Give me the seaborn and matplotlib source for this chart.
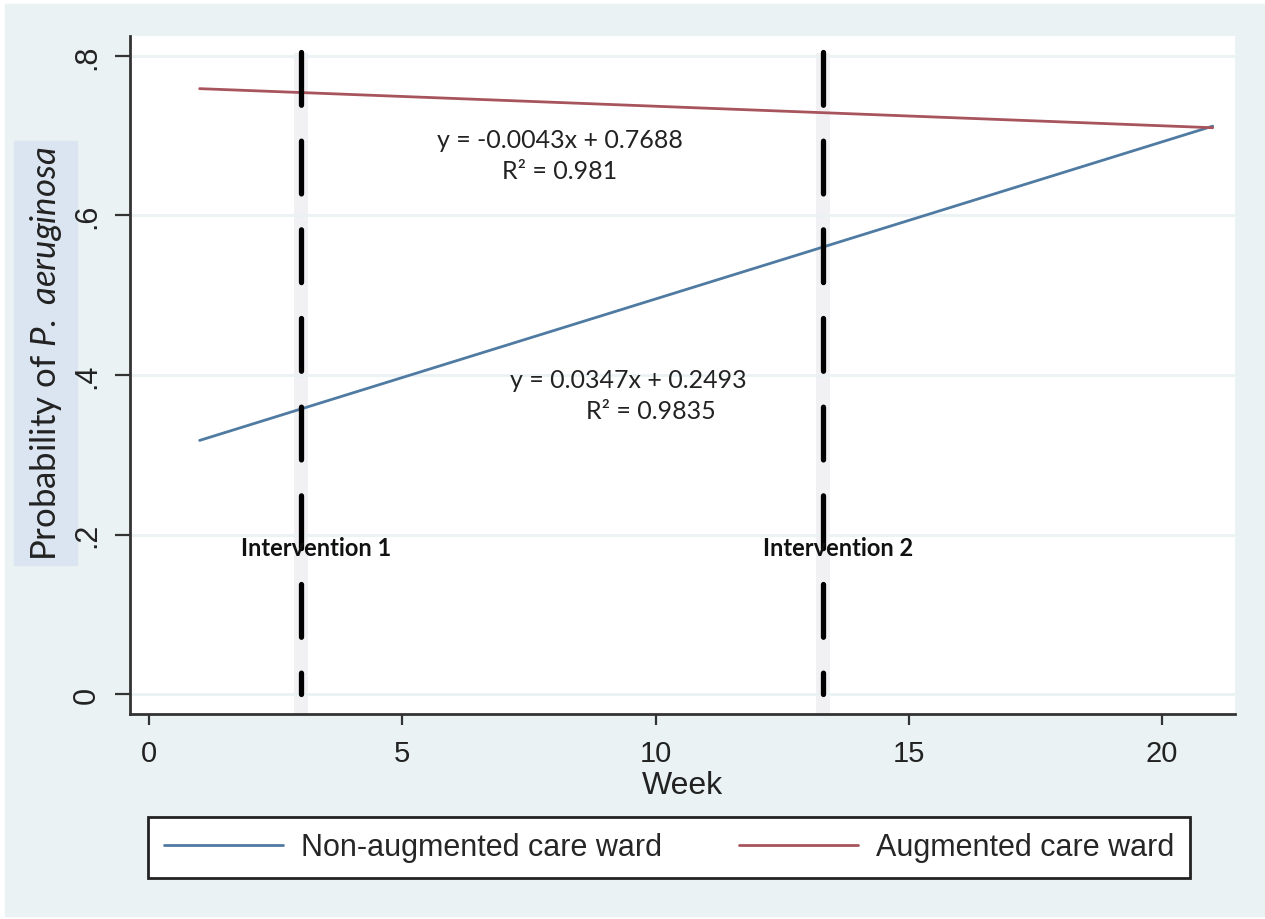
import matplotlib
matplotlib.use("Agg")
import matplotlib.pyplot as plt
import pandas as pd
import seaborn as sns
from matplotlib.patches import Rectangle

# fitted probability lines at first and last week
weeks = [1, 21]
non_augmented = [0.318, 0.712]
augmented = [0.759, 0.710]
series_names = ["Non-augmented care ward", "Augmented care ward"]
series_colors = ["#4f7ba3", "#a8545c"]

interventions = [3.0, 13.3]
intervention_labels = ["Intervention 1", "Intervention 2"]

xticks = [0, 5, 10, 15, 20]
yticks = [0, 0.2, 0.4, 0.6, 0.8]
ytick_labels = ["0", ".2", ".4", ".6", ".8"]

eq_aug = ["y = -0.0043x + 0.7688", "R² = 0.981"]
eq_non = ["y = 0.0347x + 0.2493", "R² = 0.9835"]

df = pd.DataFrame({
    "Week": weeks * 2,
    "prob": non_augmented + augmented,
    "ward": [series_names[0]] * len(weeks) + [series_names[1]] * len(weeks),
})

sns.set_theme(style="white")
plt.rcParams["font.family"] = ["Liberation Sans", "DejaVu Sans"]
plt.rcParams["mathtext.fontset"] = "custom"
plt.rcParams["mathtext.rm"] = "Lato"
plt.rcParams["mathtext.it"] = "Lato:italic"

bg = "#eaf2f3"
fig = plt.figure(figsize=(12.65, 9.2), dpi=100, facecolor="white")
fig.patches.append(Rectangle((5 / 1265, 3 / 920), 1260 / 1265, 912 / 920,
                             transform=fig.transFigure, color=bg, zorder=-10))
ax = fig.add_axes([130 / 1265, 1 - 715 / 920, 1105 / 1265, 678 / 920])
ax.set_facecolor("white")

# grey bands behind the intervention markers
for xv in interventions:
    ax.axvspan(xv - 0.14, xv + 0.14, ymin=0, ymax=0.975, color="#f1f1f3", lw=0, zorder=0)

for yv in yticks:
    ax.axhline(yv, color=bg, lw=2, zorder=0.5)

sns.lineplot(data=df, x="Week", y="prob", hue="ward", palette=series_colors,
             hue_order=series_names, lw=2, ax=ax, legend=False, zorder=2)

vl = ax.vlines(interventions, 0.805, 0.0, colors="black", lw=3.8, zorder=3)
vl.set_linestyle((0, (10, 6.8)))
vl.set_capstyle("round")

for xv, lab in zip(interventions, intervention_labels):
    ax.text(xv + 0.3, 0.184, lab, family="Lato", weight="bold", fontsize=17,
            ha="center", va="center", color="#111111", zorder=4)

ax.text(8.11, 0.695, eq_aug[0], family="Lato", fontsize=18, ha="center", va="center", color="#222222")
ax.text(8.11, 0.656, eq_aug[1], family="Lato", fontsize=18, ha="center", va="center", color="#222222")
ax.text(9.46, 0.394, eq_non[0], family="Lato", fontsize=18, ha="center", va="center", color="#222222")
ax.text(9.91, 0.356, eq_non[1], family="Lato", fontsize=18, ha="center", va="center", color="#222222")

ax.set_xlim(-0.375, 21.44)
ax.set_ylim(-0.025, 0.825)
ax.set_xticks(xticks)
ax.set_xticklabels([str(t) for t in xticks], fontsize=21, color="#222222")
ax.set_yticks(yticks)
ax.set_yticklabels(ytick_labels, fontsize=22, rotation=90, va="center", color="#222222")
ax.tick_params(axis="x", length=8, width=1.6, pad=10, color="#333333", bottom=True)
ax.tick_params(axis="y", length=11, width=1.6, pad=9, color="#333333", left=True)
ax.set_xlabel("Week", fontsize=23, color="#222222", labelpad=2)
ax.set_ylabel("")

for side in ["top", "right"]:
    ax.spines[side].set_visible(False)
for side in ["left", "bottom"]:
    ax.spines[side].set_color("#333333")
    ax.spines[side].set_linewidth(2)

# y label with its light blue box
fig.patches.append(Rectangle((14 / 1265, 1 - 566 / 920), 63 / 1265, 424 / 920,
                             transform=fig.transFigure, color="#dbe5f1", zorder=-5))
fig.text(46 / 1265, 1 - 354 / 920, r"Probability of $\it{P.}$ $\it{aeruginosa}$", family="Lato",
         fontsize=25, rotation=90, ha="center", va="center", color="#222222")

handles = [plt.Line2D([], [], color=c, lw=2) for c in series_colors]
leg = fig.legend(handles, series_names, loc="center", bbox_to_anchor=(669 / 1265, 1 - 848.5 / 920),
                 ncol=2, fontsize=22, frameon=True, fancybox=False, framealpha=1,
                 handlelength=3.9, handletextpad=0.6, columnspacing=2.5, borderpad=0.5)
leg.get_frame().set_edgecolor("#222222")
leg.get_frame().set_linewidth(2)
leg.get_frame().set_facecolor("white")

fig.savefig("out.png", dpi=100, facecolor=fig.get_facecolor())
